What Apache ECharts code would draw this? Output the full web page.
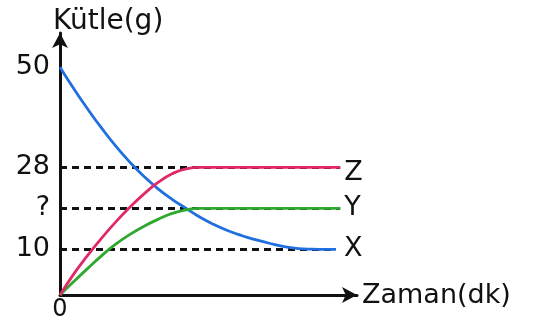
<!DOCTYPE html>
<html>
<head>
<meta charset="utf-8">
<script src="https://cdn.jsdelivr.net/npm/echarts@6/dist/echarts.min.js"></script>
<style>
html,body{margin:0;padding:0;background:#fff;}
#c{width:533px;height:332px;}
</style>
</head>
<body>
<div id="c"></div>
<script>
// Time (dk) points and masses (g)
const tX = [0, 0.5, 1, 1.5, 2, 2.5, 3, 3.5, 4, 4.5, 5, 5.5, 6, 6.5, 7, 7.5, 8, 8.5, 9, 9.5, 9.85];
const massX = [50, 45.2, 40.7, 36.5, 32.6, 29.1, 26.0, 23.3, 21.0, 19.0, 17.05, 15.45, 14.1, 13.0, 12.1, 11.3, 10.6, 10.2, 10.05, 10, 10];
const tZ = [0, 0.5, 1, 1.5, 2, 2.5, 3, 3.5, 4, 4.5, 5, 6, 7, 8, 9, 10];
const massZ = [0, 4.7, 8.8, 12.6, 16.1, 19.3, 22.2, 24.7, 26.6, 27.7, 28, 28, 28, 28, 28, 28];
const tY = [0, 0.5, 1, 1.5, 2, 2.5, 3, 3.5, 4, 4.5, 5, 6, 7, 8, 9, 10];
const massY = [0, 3.0, 5.9, 8.7, 11.2, 13.3, 15.1, 16.6, 17.9, 18.7, 19, 19, 19, 19, 19, 19];
// Guide (dashed) levels and y tick labels
const guideValues = [28, 19, 10];
const guideEnds = [10, 10, 9.85];
const yTickValues = [10, 19, 28, 50];
const yTickLabels = ['10', '?', '28', '50'];
const xTickValues = [0];
const xTickLabels = ['0'];
const seriesNames = ['X', 'Y', 'Z'];

const FONT = 'DejaVu Sans';
const zip = (a, b) => a.map((v, i) => [v, b[i]]);

const chart = echarts.init(document.getElementById('c'), null, {renderer: 'canvas'});

const guideSeries = guideValues.map((v, i) => ({
  type: 'line',
  data: [[0, v], [guideEnds[i], v]],
  symbol: 'none',
  silent: true,
  z: 1,
  lineStyle: {color: '#111', width: 3, type: [7, 5]}
}));

function curve(name, data, color, dist, off) {
  return {
    name: name,
    type: 'line',
    data: data,
    smooth: 0.5,
    symbol: 'none',
    z: 3,
    lineStyle: {color: color, width: 2.8},
    endLabel: {
      show: true,
      formatter: '{a}',
      distance: dist,
      offset: off,
      fontSize: 27,
      fontFamily: FONT,
      color: '#111'
    }
  };
}

chart.setOption({
  animation: false,
  backgroundColor: '#fff',
  grid: {left: 60, top: 33, width: 297, height: 262},
  xAxis: {
    type: 'value',
    min: 0,
    max: 10.6,
    splitLine: {show: false},
    axisTick: {show: false},
    axisLine: {
      show: true,
      symbol: ['none', 'arrow'],
      symbolSize: [12, 15],
      lineStyle: {color: '#111', width: 3}
    },
    axisLabel: {
      customValues: xTickValues,
      formatter: v => xTickLabels[xTickValues.indexOf(v)] ?? '',
      fontSize: 24,
      fontFamily: FONT,
      color: '#111',
      margin: 3
    }
  },
  yAxis: {
    type: 'value',
    min: 0,
    max: 57.5,
    splitLine: {show: false},
    axisTick: {show: false},
    axisLine: {
      show: true,
      symbol: ['none', 'arrow'],
      symbolSize: [12, 15],
      lineStyle: {color: '#111', width: 3}
    },
    axisLabel: {
      customValues: yTickValues,
      formatter: v => yTickLabels[yTickValues.indexOf(v)] ?? '',
      fontSize: 27,
      fontFamily: FONT,
      color: '#111',
      margin: 10
    }
  },
  graphic: [
    {type: 'text', x: 53, y: 22, style: {text: 'Kütle(g)', fontSize: 28, fontFamily: FONT, fill: '#111', align: 'left', verticalAlign: 'middle'}},
    {type: 'text', x: 362, y: 296, style: {text: 'Zaman(dk)', fontSize: 27, fontFamily: FONT, fill: '#111', align: 'left', verticalAlign: 'middle'}}
  ],
  series: guideSeries.concat([
    curve(seriesNames[0], zip(tX, massX), '#1f6fe0', 8, [0, 0]),
    curve(seriesNames[1], zip(tY, massY), '#2fa82f', 4, [0, 0]),
    curve(seriesNames[2], zip(tZ, massZ), '#e0286a', 4, [0, 6])
  ])
});
</script>
</body>
</html>
